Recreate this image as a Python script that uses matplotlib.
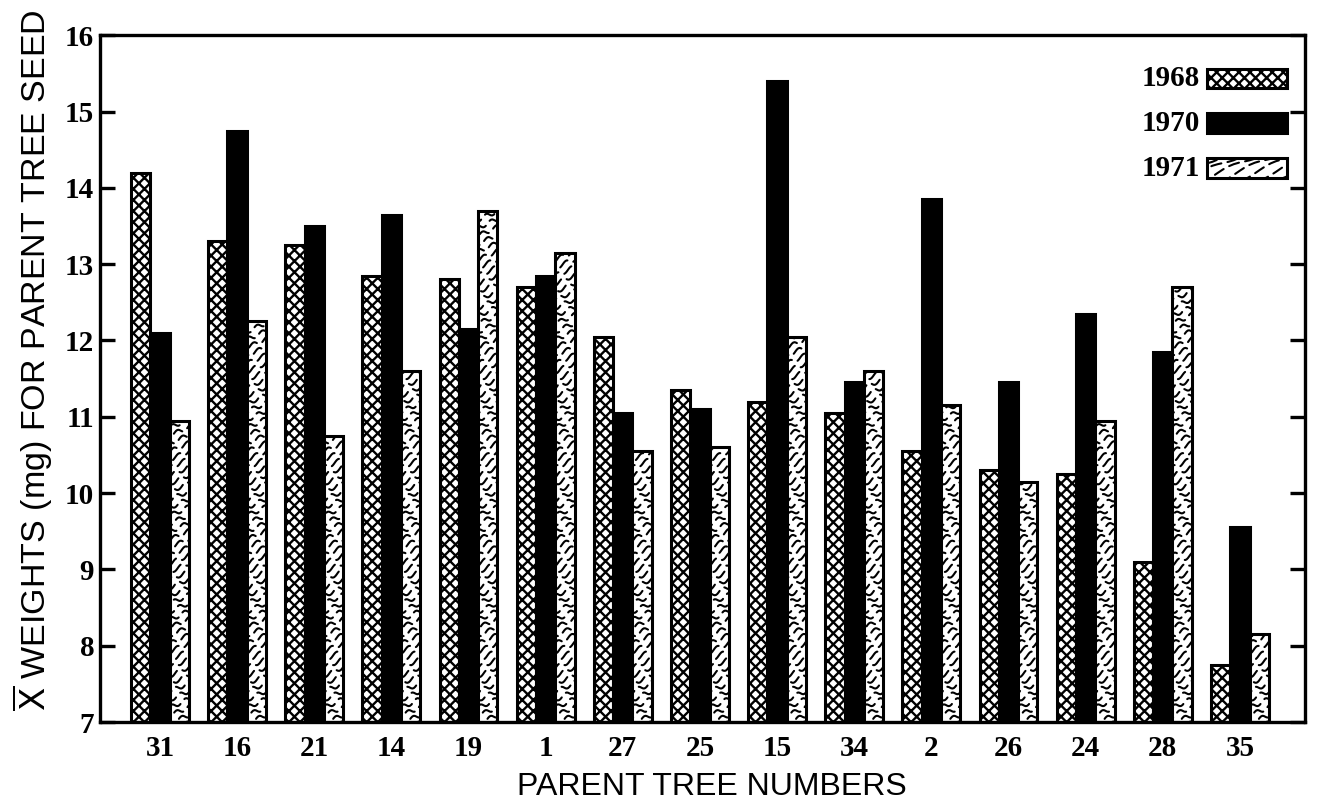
import numpy as np
import matplotlib.pyplot as plt
from matplotlib.patches import Rectangle

trees = ['31', '16', '21', '14', '19', '1', '27', '25', '15', '34', '2', '26', '24', '28', '35']
w1968 = [14.2, 13.3, 13.25, 12.85, 12.8, 12.7, 12.05, 11.35, 11.2, 11.05, 10.55, 10.3, 10.25, 9.1, 7.75]
w1970 = [12.1, 14.75, 13.5, 13.65, 12.15, 12.85, 11.05, 11.1, 15.4, 11.45, 13.85, 11.45, 12.35, 11.85, 9.55]
w1971 = [10.95, 12.25, 10.75, 11.6, 13.7, 13.15, 10.55, 10.6, 12.05, 11.6, 11.15, 10.15, 10.95, 12.7, 8.15]
years = ['1968', '1970', '1971']

plt.rcParams['hatch.linewidth'] = 1.7
num_font = ['Liberation Serif', 'DejaVu Serif']
lab_font = ['Liberation Sans', 'DejaVu Sans']


def squiggle(ax, x0, y0, w, h, transform, zorder=2):
    # wavy broken strokes inside a box, laid out in pixel units
    clip = Rectangle((x0, y0), w, h, transform=transform)
    p0 = transform.transform((x0, y0))
    p1 = transform.transform((x0 + w, y0 + h))
    inv = transform.inverted()
    wpx = p1[0] - p0[0]
    t = np.linspace(0, 1, 16)
    for k, yy in enumerate(np.arange(p0[1] - 0.5 * wpx, p1[1] + 6, 8.0)):
        xs = p0[0] + t * wpx
        ys = yy + 0.45 * t * wpx + 2.2 * np.sin(2 * np.pi * (1.4 * t + 0.37 * k))
        pts = inv.transform(np.column_stack([xs, ys]))
        ln, = ax.plot(pts[:, 0], pts[:, 1], transform=transform, color='black',
                      lw=1.5, solid_capstyle='round', dash_capstyle='round',
                      linestyle=(2.3 * k % 8, (5, 3)), zorder=zorder)
        ln.set_clip_path(clip)


fig = plt.figure(figsize=(13.3, 8.09), dpi=100)
ax = fig.add_axes([0.075, 0.1075, 0.906, 0.849])
ax.set_xlim(-0.78, 14.84)
ax.set_ylim(7, 16)

x = np.arange(len(trees))
bw = 0.25
ax.bar(x - bw, w1968, bw, color='white', edgecolor='black', hatch='xxx', linewidth=2.2)
ax.bar(x, w1970, bw, color='black', edgecolor='black', linewidth=2.2)
b71 = ax.bar(x + bw, w1971, bw, color='white', edgecolor='black', linewidth=2.2)
for b in b71:
    squiggle(ax, b.get_x(), 7, b.get_width(), b.get_height() - 7, ax.transData)

# legend, text left of the swatch
leg_y = [0.937, 0.872, 0.806]
for i, (yr, yc) in enumerate(zip(years, leg_y)):
    ax.text(0.913, yc, yr, transform=ax.transAxes, ha='right', va='center',
            fontsize=21, fontweight='bold', family=num_font)
    r = Rectangle((0.919, yc - 0.0145), 0.066, 0.029, transform=ax.transAxes,
                  facecolor='black' if i == 1 else 'white', edgecolor='black',
                  hatch='xxx' if i == 0 else None, lw=2.2, zorder=3)
    ax.add_patch(r)
    if i == 2:
        squiggle(ax, 0.919, yc - 0.0145, 0.066, 0.029, ax.transAxes, zorder=4)

ax.set_xticks(x)
ax.set_xticklabels(trees)
ax.set_yticks(range(7, 17))
for s in ax.spines.values():
    s.set_linewidth(2.4)
ax.tick_params(axis='x', length=0, pad=9)
ax.tick_params(axis='y', direction='in', length=11, width=2.4, left=True, right=True, pad=4)
for lab in ax.get_xticklabels() + ax.get_yticklabels():
    lab.set_fontsize(21)
    lab.set_fontweight('bold')
    lab.set_family(num_font)

fig.text(0.025, 0.555, r'$\overline{\mathrm{X}}$ WEIGHTS (mg) FOR PARENT TREE SEED',
         rotation=90, ha='center', va='center', fontsize=24.5, family=lab_font)
fig.text(0.535, 0.027, 'PARENT TREE NUMBERS', ha='center', va='center',
         fontsize=23, family=lab_font)

fig.savefig('out.png', dpi=100)
